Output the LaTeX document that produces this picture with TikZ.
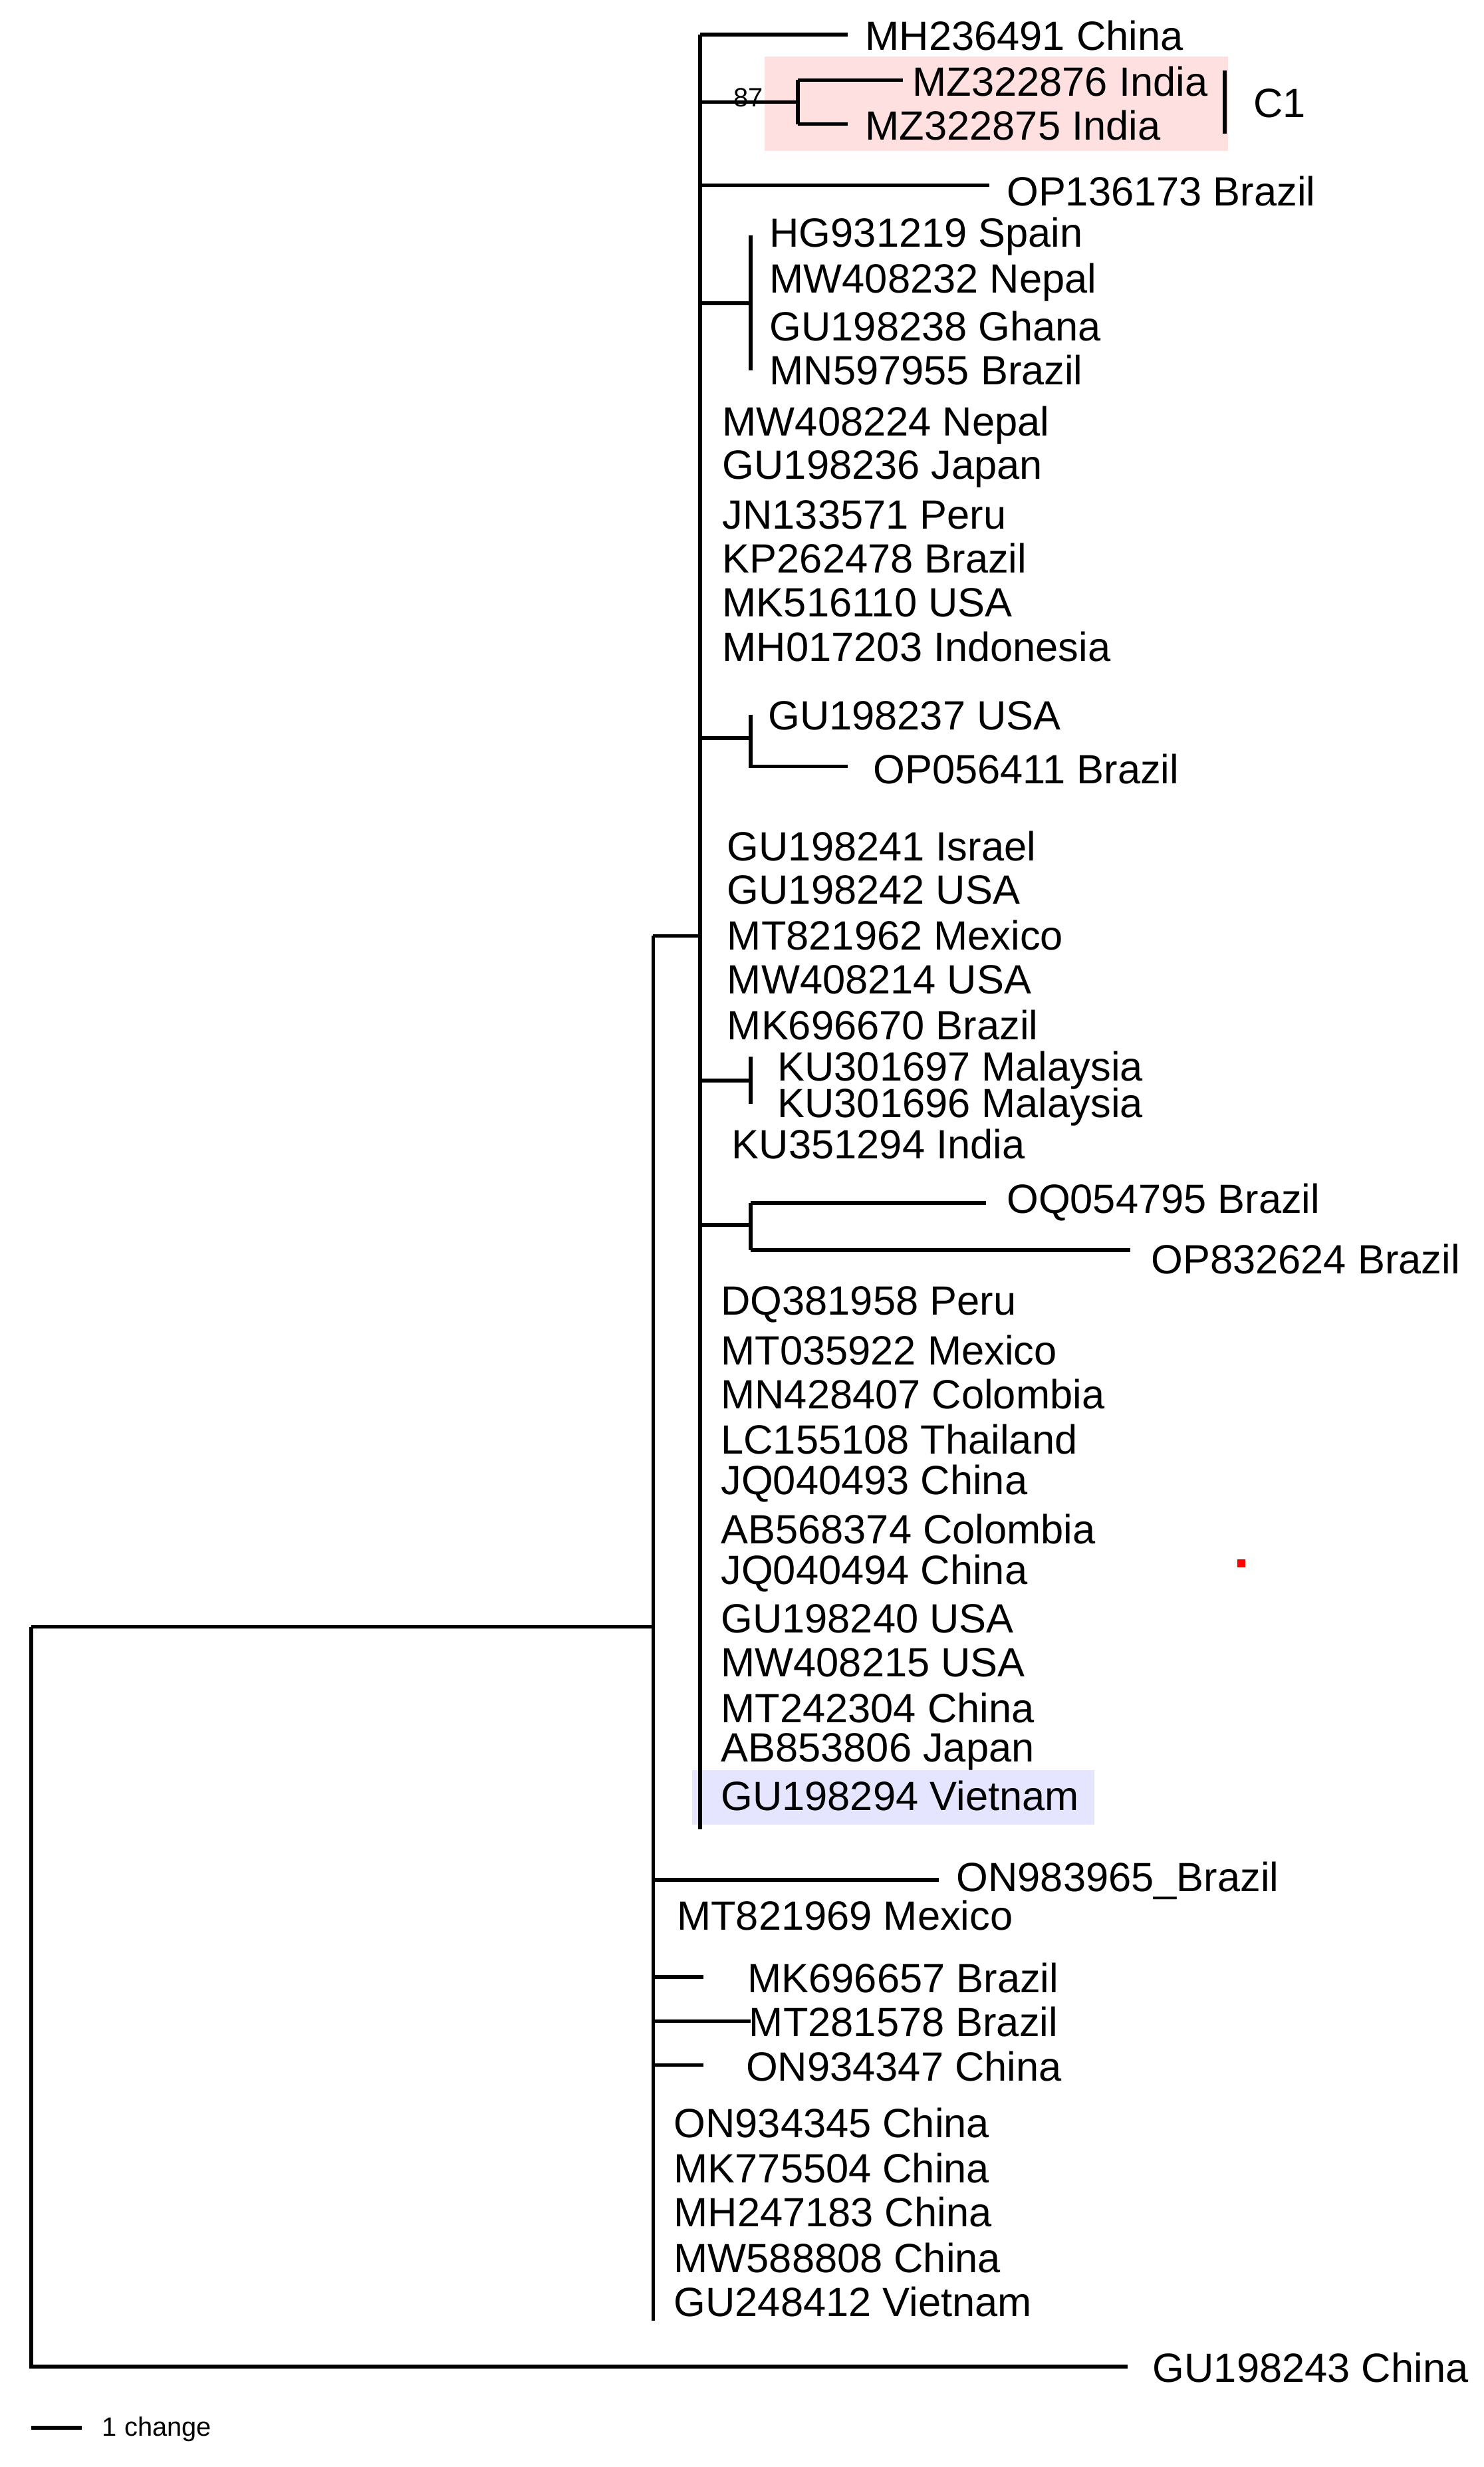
\documentclass[tikz,border=0pt]{standalone}
\usepackage{fontspec}
\setmainfont{Liberation Sans}
\begin{document}
\begin{tikzpicture}[x=0.05cm,y=-0.05cm,line width=3.4pt,
 lab/.style={anchor=west,inner sep=0pt,yshift=-1pt,font=\fontsize{37}{42}\selectfont},
 small/.style={anchor=west,inner sep=0pt,font=\fontsize{24}{27}\selectfont}]
\useasboundingbox (0,0) rectangle (945,1571);
\fill[red!12] (487,36) rectangle (782,96);
\fill[blue!10] (441,1127) rectangle (697,1162);
\fill[red] (788,993) rectangle (793,998);
% backbone
\draw (20,1036) -- (20,1507) -- (718,1507);
\draw (20,1036) -- (416,1036);
\draw (416,596) -- (416,1478);
\draw (416,596) -- (446,596);
\draw (446,22) -- (446,1165);
\draw (446,22) -- (540,22);
\draw (446,65) -- (508,65); \draw (508,51) -- (508,79); \draw (508,51) -- (575,51); \draw (508,79) -- (540,79);
\draw (446,118) -- (630,118);
\draw (446,193) -- (478,193); \draw (478,150) -- (478,236);
\draw (446,470) -- (478,470); \draw (478,455) -- (478,488) -- (540,488);
\draw (446,688) -- (478,688); \draw (478,673) -- (478,703);
\draw (446,780) -- (478,780); \draw (478,766) -- (478,796); \draw (478,766) -- (628,766); \draw (478,796) -- (720,796);
\draw (416,1197) -- (598,1197);
\draw (416,1259) -- (448,1259);
\draw (416,1287) -- (478,1287);
\draw (416,1315) -- (448,1315);
\draw (780,45) -- (780,85);
\draw (20,1546) -- (52,1546);
\node[small] at (466,62) {87};
\node[small] at (64,1547) {1 change};
\node[lab] at (797,65) {C1};
\foreach \t/\x/\y in {MH236491 China/550/22, MZ322876 India/580/51, MZ322875 India/550/79,
 OP136173 Brazil/640/121, HG931219 Spain/489/150, MW408232 Nepal/489/179, GU198238 Ghana/489/207, MN597955 Brazil/489/235,
 MW408224 Nepal/459/270, GU198236 Japan/459/298, JN133571 Peru/459/327, KP262478 Brazil/459/355, MK516110 USA/459/383, MH017203 Indonesia/459/411,
 GU198237 USA/488/455, OP056411 Brazil/555/489,
 GU198241 Israel/462/538, GU198242 USA/462/566, MT821962 Mexico/462/595, MW408214 USA/462/623, MK696670 Brazil/462/652,
 KU301697 Malaysia/494/681, KU301696 Malaysia/494/704, KU351294 India/465/728,
 OQ054795 Brazil/640/765, OP832624 Brazil/732/801,
 DQ381958 Peru/458/830, MT035922 Mexico/458/859, MN428407 Colombia/458/887, LC155108 Thailand/458/916, JQ040493 China/458/944,
 AB568374 Colombia/458/973, JQ040494 China/458/1001, GU198240 USA/458/1030, MW408215 USA/458/1058, MT242304 China/458/1087,
 AB853806 Japan/458/1115, GU198294 Vietnam/458/1143,
 ON983965\_Brazil/608/1197, MT821969 Mexico/430/1219, MK696657 Brazil/475/1259, MT281578 Brazil/476/1287, ON934347 China/474/1315,
 ON934345 China/428/1351, MK775504 China/428/1380, MH247183 China/428/1408, MW588808 China/428/1437, GU248412 Vietnam/428/1465,
 GU198243 China/733/1507}
 \node[lab] at (\x,\y) {\t};
\end{tikzpicture}
\end{document}
